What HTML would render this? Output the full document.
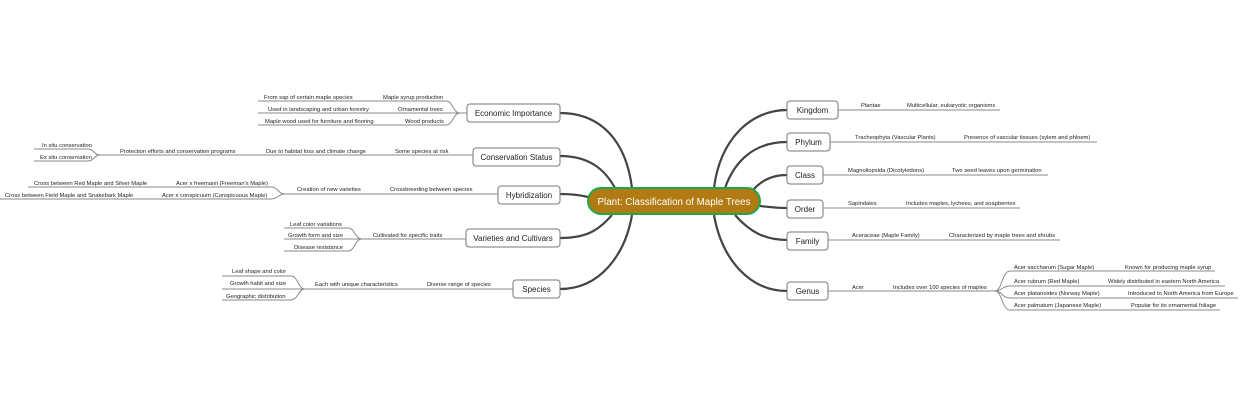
<!DOCTYPE html>
<html><head><meta charset="utf-8"><style>
html,body{margin:0;padding:0;background:#fff;}
svg{display:block;font-family:"Liberation Sans",sans-serif;}
.s{font-size:5.8px;fill:#222;}
.b{font-size:8px;fill:#222;}
.l{stroke:#8a8a8a;stroke-width:1;fill:none;}
.c{stroke:#444;stroke-width:2.2;fill:none;}
.bx{fill:#fff;stroke:#777;stroke-width:1;}
</style></head><body>
<svg width="1240" height="400" viewBox="0 0 1240 400" xmlns="http://www.w3.org/2000/svg">
<path class="c" d="M714 188 C720 140 750 110 787 110"/>
<path class="c" d="M725 188 C735 160 755 142 787 142"/>
<path class="c" d="M752 191 C760 182 770 175 787 175"/>
<path class="c" d="M760 206 C770 207 775 208 787 208"/>
<path class="c" d="M735 215 C750 232 765 240 787 240"/>
<path class="c" d="M714 215 C722 260 750 291 787 291"/>
<path class="c" d="M632 188 C626 140 600 113 560 113"/>
<path class="c" d="M615 188 C605 170 590 156 560 156"/>
<path class="c" d="M588 197 C580 195 572 194 560 194"/>
<path class="c" d="M612 215 C600 228 590 238 560 238"/>
<path class="c" d="M632 215 C625 255 600 289 560 289"/>
<rect x="588" y="188" width="172" height="26" rx="13" fill="#b27a12" stroke="#1fa74a" stroke-width="2"/>
<text x="674" y="205" text-anchor="middle" font-size="9.8" fill="#fff">Plant: Classification of Maple Trees</text>
<rect class="bx" x="787" y="101" width="51" height="18" rx="3"/><text class="b" x="812.5" y="113" text-anchor="middle">Kingdom</text>
<rect class="bx" x="787" y="133" width="43" height="18" rx="3"/><text class="b" x="808.5" y="145" text-anchor="middle">Phylum</text>
<rect class="bx" x="787" y="166" width="36" height="18" rx="3"/><text class="b" x="805" y="178" text-anchor="middle">Class</text>
<rect class="bx" x="787" y="200" width="36" height="18" rx="3"/><text class="b" x="805" y="212" text-anchor="middle">Order</text>
<rect class="bx" x="787" y="232" width="41" height="18" rx="3"/><text class="b" x="807.5" y="244" text-anchor="middle">Family</text>
<rect class="bx" x="787" y="282" width="41" height="18" rx="3"/><text class="b" x="807.5" y="294" text-anchor="middle">Genus</text>
<path class="l" d="M838 110 H1000"/><text class="s" x="861" y="107">Plantae</text><text class="s" x="907" y="107">Multicellular, eukaryotic organisms</text>
<path class="l" d="M830 142 H1097"/><text class="s" x="855" y="139">Tracheophyta (Vascular Plants)</text><text class="s" x="964" y="139">Presence of vascular tissues (xylem and phloem)</text>
<path class="l" d="M823 175 H1048"/><text class="s" x="848" y="172">Magnoliopsida (Dicotyledons)</text><text class="s" x="952" y="172">Two seed leaves upon germination</text>
<path class="l" d="M823 208 H1020"/><text class="s" x="848" y="205">Sapindales</text><text class="s" x="906" y="205">Includes maples, lychees, and soapberries</text>
<path class="l" d="M828 240 H1060"/><text class="s" x="852" y="237">Aceraceae (Maple Family)</text><text class="s" x="949" y="237">Characterized by maple trees and shrubs</text>
<path class="l" d="M828 291 H995"/><text class="s" x="852" y="289">Acer</text><text class="s" x="893" y="289">Includes over 100 species of maples</text>
<path class="l" d="M995 291 C1002 291 1002 271 1010 271 H1215"/>
<path class="l" d="M995 291 C1002 291 1002 286 1010 286 H1225"/>
<path class="l" d="M995 291 C1002 291 1002 298 1010 298 H1238"/>
<path class="l" d="M995 291 C1002 291 1002 310 1010 310 H1220"/>
<text class="s" x="1014" y="269">Acer saccharum (Sugar Maple)</text><text class="s" x="1125" y="269">Known for producing maple syrup</text>
<text class="s" x="1014" y="283">Acer rubrum (Red Maple)</text><text class="s" x="1108" y="283">Widely distributed in eastern North America</text>
<text class="s" x="1014" y="295">Acer platanoides (Norway Maple)</text><text class="s" x="1128" y="295">Introduced to North America from Europe</text>
<text class="s" x="1014" y="307">Acer palmatum (Japanese Maple)</text><text class="s" x="1131" y="307">Popular for its ornamental foliage</text>
<rect class="bx" x="467" y="104" width="93" height="18" rx="3"/><text class="b" x="513.5" y="116" text-anchor="middle">Economic Importance</text>
<rect class="bx" x="473" y="148" width="87" height="18" rx="3"/><text class="b" x="516.5" y="160" text-anchor="middle">Conservation Status</text>
<rect class="bx" x="498" y="186" width="62" height="18" rx="3"/><text class="b" x="529" y="198" text-anchor="middle">Hybridization</text>
<rect class="bx" x="466" y="229" width="94" height="18" rx="3"/><text class="b" x="513" y="241" text-anchor="middle">Varieties and Cultivars</text>
<rect class="bx" x="513" y="280" width="47" height="18" rx="3"/><text class="b" x="536.5" y="292" text-anchor="middle">Species</text>
<path class="l" d="M467 113 H460 C453 113 453 101 446 101 H258"/>
<path class="l" d="M460 113 H258"/>
<path class="l" d="M460 113 C453 113 453 125 446 125 H258"/>
<text class="s" x="264" y="99">From sap of certain maple species</text><text class="s" x="383" y="99">Maple syrup production</text>
<text class="s" x="268" y="111">Used in landscaping and urban forestry</text><text class="s" x="398" y="111">Ornamental trees</text>
<text class="s" x="265" y="123">Maple wood used for furniture and flooring</text><text class="s" x="405" y="123">Wood products</text>
<path class="l" d="M473 155 H100"/>
<path class="l" d="M100 155 C94 155 94 149 88 149 H34"/>
<path class="l" d="M100 155 C94 155 94 161 88 161 H34"/>
<text class="s" x="395" y="153">Some species at risk</text><text class="s" x="266" y="153">Due to habitat loss and climate change</text><text class="s" x="120" y="153">Protection efforts and conservation programs</text>
<text class="s" x="42" y="147">In situ conservation</text><text class="s" x="40" y="159">Ex situ conservation</text>
<path class="l" d="M498 194 H285"/>
<path class="l" d="M285 194 C278 194 278 187 271 187 H28"/>
<path class="l" d="M285 194 C278 194 278 199 271 199 H0"/>
<text class="s" x="390" y="191">Crossbreeding between species</text><text class="s" x="297" y="191">Creation of new varieties</text>
<text class="s" x="176" y="185">Acer x freemanii (Freeman's Maple)</text><text class="s" x="34" y="185">Cross between Red Maple and Silver Maple</text>
<text class="s" x="162" y="197">Acer x conspicuum (Conspicuous Maple)</text><text class="s" x="5" y="197">Cross between Field Maple and Snakebark Maple</text>
<path class="l" d="M466 239 H362"/>
<path class="l" d="M362 239 C355 239 355 228 348 228 H284"/>
<path class="l" d="M362 239 H284"/>
<path class="l" d="M362 239 C355 239 355 251 348 251 H284"/>
<text class="s" x="373" y="237">Cultivated for specific traits</text>
<text class="s" x="290" y="226">Leaf color variations</text><text class="s" x="288" y="237">Growth form and size</text><text class="s" x="294" y="249">Disease resistance</text>
<path class="l" d="M513 289 H305"/>
<path class="l" d="M305 289 C298 289 298 276 291 276 H222"/>
<path class="l" d="M305 289 H222"/>
<path class="l" d="M305 289 C298 289 298 300 291 300 H222"/>
<text class="s" x="427" y="286">Diverse range of species</text><text class="s" x="315" y="286">Each with unique characteristics</text>
<text class="s" x="232" y="273">Leaf shape and color</text><text class="s" x="230" y="285">Growth habit and size</text><text class="s" x="226" y="298">Geographic distribution</text>
</svg>
</body></html>
